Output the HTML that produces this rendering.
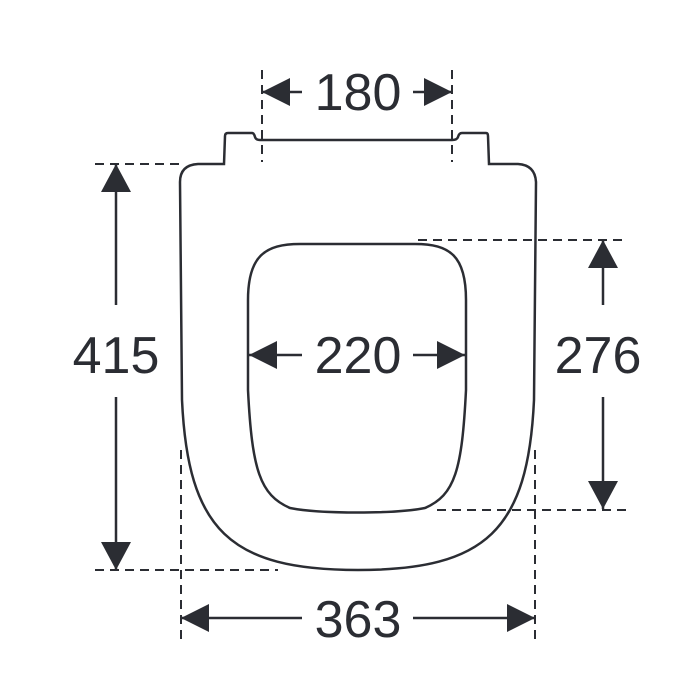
<!DOCTYPE html>
<html><head><style>body{margin:0;background:#fff}svg{display:block}</style></head>
<body>
<svg width="700" height="700" viewBox="0 0 700 700" xmlns="http://www.w3.org/2000/svg">
<g fill="none" stroke="#2b2d33" stroke-width="2.5">
<path d="M182,400 L180,182 Q180,165 198,164 L224,164 L225,136 Q225,133 228,133 L252,133 Q254,133 255,137 Q256,140 260,140 L452,140 Q457,140 458,137 Q459,133 462,133 L486,133 Q488,133 488,136 L489,164 L518,164 Q535,165 536,182 L534,400 C528,530 486,570 358,570 C230,570 188,530 182,400 Z"/>
<path d="M248,300 C248,256 265,244 300,244 L415,244 C450,244 466,256 466,300 L466,390 C462,470 455,495 425,508 C395,514 320,514 290,508 C260,495 252,470 248,390 Z"/>
</g>
<g stroke="#2b2d33" stroke-width="2" stroke-dasharray="9,6" fill="none">
<line x1="262" y1="70" x2="262" y2="162"/>
<line x1="452" y1="70" x2="452" y2="162"/>
<line x1="95" y1="164" x2="182" y2="164"/>
<line x1="95" y1="570" x2="278" y2="570"/>
<line x1="418" y1="240" x2="626" y2="240"/>
<line x1="437" y1="510" x2="626" y2="510"/>
<line x1="181" y1="450" x2="181" y2="640"/>
<line x1="535" y1="450" x2="535" y2="640"/>
</g>
<g stroke="#2b2d33" stroke-width="2.5">
<line x1="262" y1="92" x2="302" y2="92"/><line x1="413" y1="92" x2="452" y2="92"/>
<line x1="116" y1="164" x2="116" y2="305"/><line x1="116" y1="397" x2="116" y2="570"/>
<line x1="603" y1="240" x2="603" y2="305"/><line x1="603" y1="397" x2="603" y2="509"/>
<line x1="249" y1="355" x2="302" y2="355"/><line x1="413" y1="355" x2="465" y2="355"/>
<line x1="181" y1="618" x2="302" y2="618"/><line x1="413" y1="618" x2="535" y2="618"/>
</g>
<g fill="#2b2d33">
<polygon points="262,92 290,78 290,106"/><polygon points="452,92 424,78 424,106"/>
<polygon points="116,164 101,192 131,192"/><polygon points="116,570 101,542 131,542"/>
<polygon points="603,240 588,268 618,268"/><polygon points="603,509 588,481 618,481"/>
<polygon points="249,355 277,341 277,369"/><polygon points="465,355 437,341 437,369"/>
<polygon points="181,618 209,604 209,632"/><polygon points="535,618 507,604 507,632"/>
</g>
<g font-family="Liberation Sans, sans-serif" font-size="52" fill="#2b2d33" text-anchor="middle">
<text x="358" y="110">180</text>
<text x="116" y="373">415</text>
<text x="598" y="373">276</text>
<text x="358" y="373">220</text>
<text x="358" y="637">363</text>
</g>
</svg>
</body></html>
